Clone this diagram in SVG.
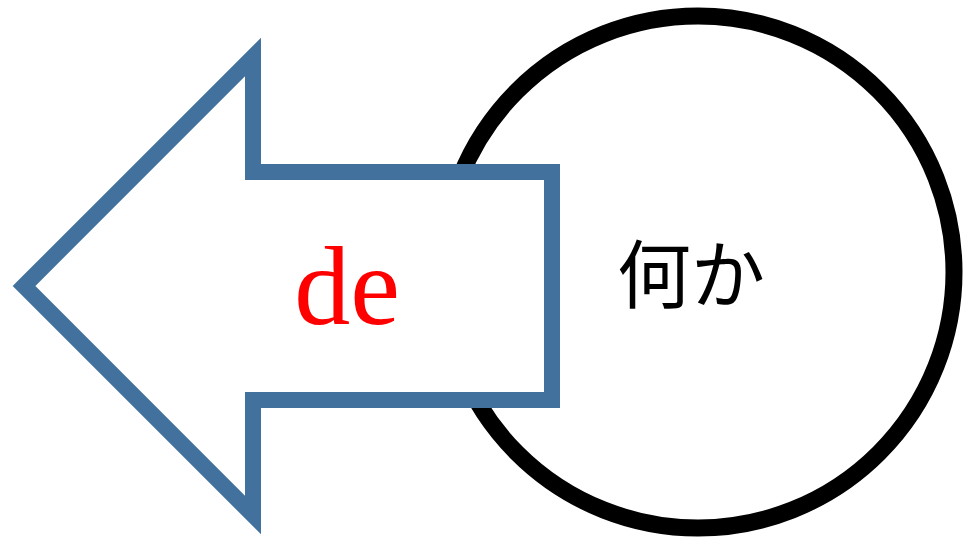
<svg xmlns="http://www.w3.org/2000/svg" width="965" height="541" viewBox="0 0 965 541">
<style>
.circ{fill:#ffffff;stroke:#000000;stroke-width:17}
.arrow{fill:#ffffff;stroke:#41719c;stroke-width:16;stroke-linejoin:miter;stroke-miterlimit:10}
.lbl-de{font-family:"Liberation Serif","Times New Roman",serif;font-size:112px;fill:#ff0000}
.lbl-jp{font-family:"Noto Sans CJK JP","Noto Sans",sans-serif;font-size:74px;fill:#000000}
</style>
<rect width="965" height="541" fill="#ffffff"/>
<g id="circle-node">
<ellipse class="circ" cx="698" cy="272" rx="256" ry="256"/>
<text class="lbl-jp" x="691" y="302" text-anchor="middle">何か</text>
</g>
<g id="arrow-node">
<polygon class="arrow" points="24,286 253,57 253,172 552,172 552,400 253,400 253,515"/>
<text class="lbl-de" x="347" y="324" text-anchor="middle">de</text>
</g>
<g id="connectors"></g>
</svg>
